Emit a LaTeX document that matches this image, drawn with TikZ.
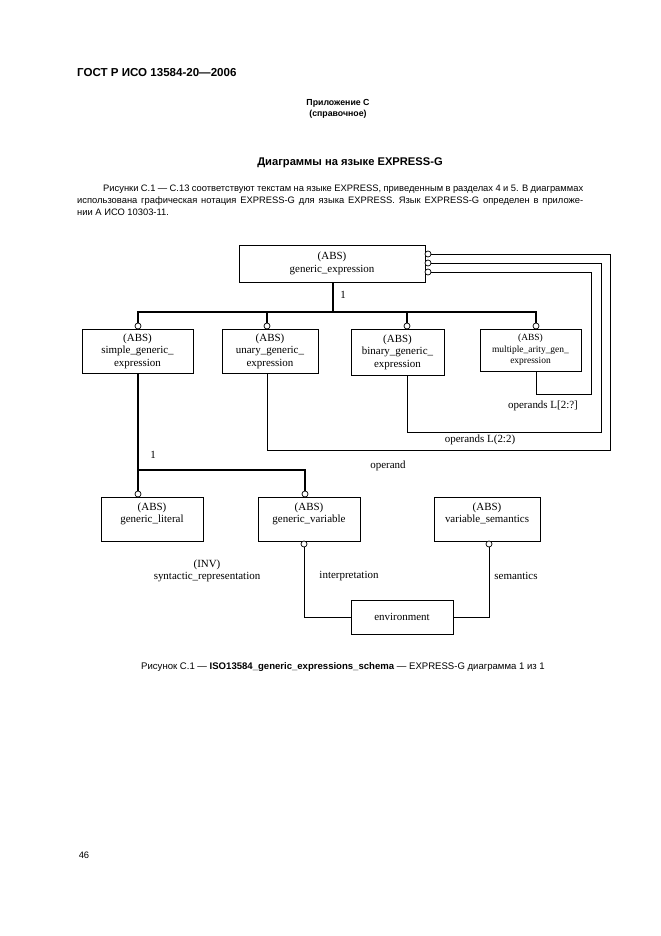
\documentclass[tikz,border=0pt]{standalone}
\usepackage{fontspec}
\setmainfont{Liberation Serif}
\newfontfamily\gostsans{Liberation Sans}

\begin{document}
\begin{tikzpicture}[x=1bp,y=-1bp,
  entity/.style={draw, line width=0.8bp, align=center, inner sep=1bp, font=\fontsize{11}{12.5}\selectfont},
  ring/.style={draw, circle, fill=white, line width=0.7bp, inner sep=0pt, minimum size=6bp},
  rel/.style={line width=0.8bp},
  bus/.style={line width=1.8bp},
  lbl/.style={font=\fontsize{11}{12.5}\selectfont, inner sep=0pt},
  page/.style={font=\gostsans\fontsize{9.4}{12}\selectfont, inner sep=0pt}]
\useasboundingbox (0,0) rectangle (661,936);
\fill[white] (0,0) rectangle (661,936);

% page text
\node[page, font=\gostsans\bfseries\fontsize{11.6}{13}\selectfont, anchor=west] (gost) at (77,73) {ГОСТ Р ИСО 13584-20—2006};
\node[page, font=\gostsans\bfseries\fontsize{8.8}{11.5}\selectfont, align=center] (annex) at (338,109) {Приложение С\\(справочное)};
\node[page, font=\gostsans\bfseries\fontsize{11.2}{13}\selectfont] (title) at (350,163) {Диаграммы на языке EXPRESS-G};
\node[page, anchor=base west] (par1) at (103,191) {\makebox[480bp][s]{Рисунки С.1 — С.13 соответствуют текстам на языке EXPRESS, приведенным в разделах 4 и 5. В диаграммах}};
\node[page, anchor=base west] (par2) at (77,203) {\makebox[506bp][s]{использована графическая нотация EXPRESS-G для языка EXPRESS. Язык EXPRESS-G определен в приложе-}};
\node[page, anchor=base west] (par3) at (77,215) {нии А ИСО 10303-11.};

% entities
\node[entity, minimum width=186bp, minimum height=37bp] (genexpr) at (332,263.5) {(ABS)\\generic\_expression};
\node[entity, minimum width=111bp, minimum height=44bp] (simple) at (137.5,351) {(ABS)\\simple\_generic\_\\expression};
\node[entity, minimum width=96bp, minimum height=44bp] (unary) at (270,351) {(ABS)\\unary\_generic\_\\expression};
\node[entity, minimum width=93bp, minimum height=46bp] (binary) at (397.5,352) {(ABS)\\binary\_generic\_\\expression};
\node[entity, minimum width=101bp, minimum height=42bp, font=\fontsize{9.5}{11.5}\selectfont] (multi) at (530.5,350) {(ABS)\\multiple\_arity\_gen\_\\expression};
\node[entity, minimum width=102bp, minimum height=44bp] (literal) at (152,519) {(ABS)\\generic\_literal\\ };
\node[entity, minimum width=102bp, minimum height=44bp] (variable) at (309,519) {(ABS)\\generic\_variable\\ };
\node[entity, minimum width=106bp, minimum height=44bp] (varsem) at (487,519) {(ABS)\\variable\_semantics\\ };
\node[entity, minimum width=102bp, minimum height=34bp] (env) at (402,617) {environment};

% circles
\node[ring] (c-simple) at (138,326) {};
\node[ring] (c-un) at (267,326) {};
\node[ring] (c-bin) at (407,326) {};
\node[ring] (c-mul) at (536,326) {};
\node[ring] (c-lit) at (138,494) {};
\node[ring] (c-var) at (305,494) {};
\node[ring] (a-op) at (428,254) {};
\node[ring] (a-ops2) at (428,263) {};
\node[ring] (a-opsn) at (428,272) {};
\node[ring] (c-int) at (304,544) {};
\node[ring] (c-sem) at (489,544) {};

% subtype trees
\coordinate (hub) at (333,312);
\draw[bus] (genexpr.south -| hub) -- (hub);
\draw[bus] (c-simple.north) |- (hub) -| (c-mul.north);
\draw[bus] (c-un.north) -- (c-un |- hub);
\draw[bus] (c-bin.north) -- (c-bin |- hub);
\node[lbl] (one-a) at (343,295) {1};
\coordinate (fork) at (138,470);
\draw[bus] (simple.south -| c-simple) -- (c-lit.north);
\draw[bus] (fork) -| (c-var.north);
\node[lbl] (one-b) at (153,455) {1};

% attributes
\coordinate (op-corner) at (610,450);
\coordinate (ops2-corner) at (601,432);
\coordinate (opsn-corner) at (591,394);
\draw[rel] (a-op.east) -| (op-corner) -| (c-un |- unary.south);
\draw[rel] (a-ops2.east) -| (ops2-corner) -| (c-bin |- binary.south);
\draw[rel] (a-opsn.east) -| (opsn-corner) -| (c-mul |- multi.south);
\node[lbl] (l-op) at (388,466) {operand};
\node[lbl] (l-ops2) at (480,440) {operands L(2:2)};
\node[lbl] (l-opsn) at (543,406) {operands L[2:?]};
\draw[rel] (c-int.south) |- (env.west);
\draw[rel] (c-sem.south) |- (env.east);
\node[lbl] (l-int) at (349,576) {interpretation};
\node[lbl] (l-sem) at (516,576) {semantics};
\node[lbl, align=center] (l-inv) at (207,571) {(INV)\\syntactic\_representation};

% caption and page number
\node[page, font=\gostsans\fontsize{9.6}{12}\selectfont] (caption) at (343,667) {Рисунок С.1 — \textbf{ISO13584\_generic\_expressions\_schema} — EXPRESS-G диаграмма 1 из 1};
\node[page] (pageno) at (84,855) {46};
\end{tikzpicture}
\end{document}
